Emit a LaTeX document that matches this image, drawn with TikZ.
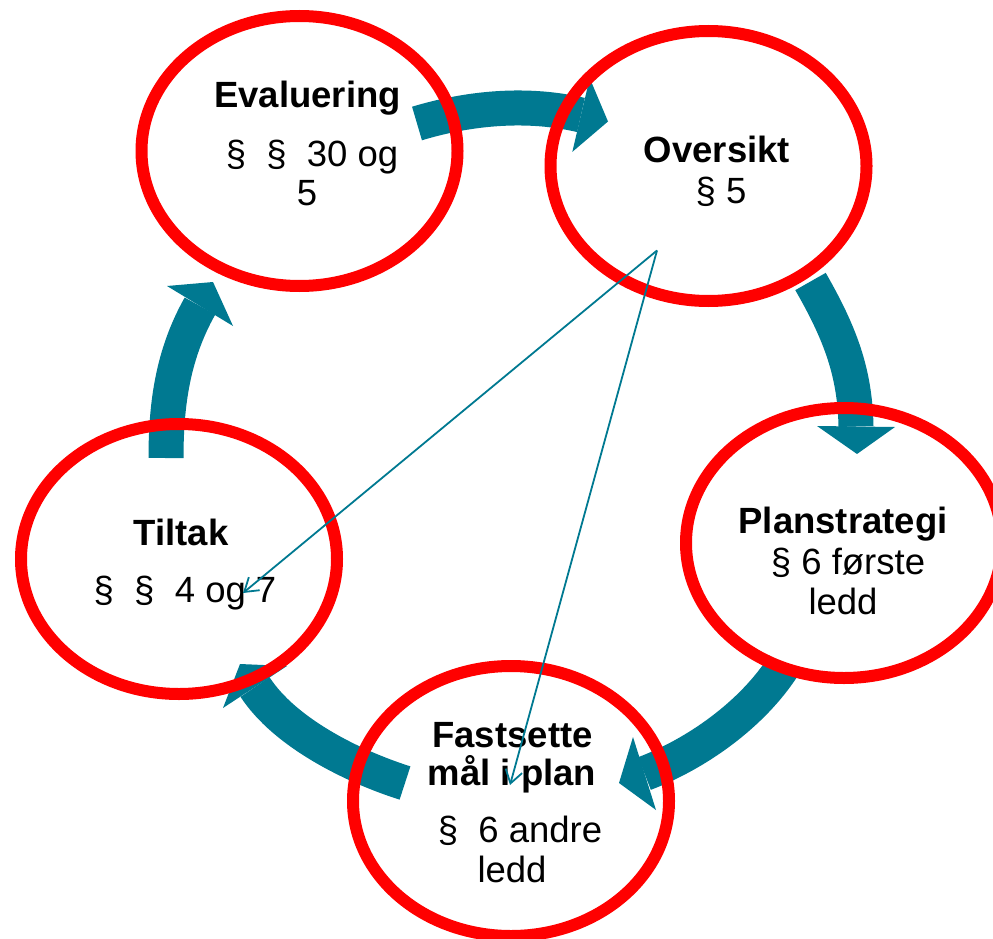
\documentclass[tikz,border=0pt]{standalone}
\usepackage{fontspec}
\setmainfont{Liberation Sans}
\usetikzlibrary{shapes.geometric,arrows.meta}
\definecolor{cyclered}{RGB}{255,0,0}
\definecolor{cycleteal}{RGB}{0,121,145}
\tikzset{
  stage/.style={draw=cyclered, line width=12pt, shape=ellipse, minimum width=316pt, minimum height=270pt, inner sep=0pt},
  blockbody/.style={draw=cycleteal, line width=35pt, line cap=butt},
  blockhead/.style={fill=cycleteal},
  lbl/.style={anchor=base, inner sep=0pt, font=\fontsize{36.5}{40}\selectfont},
  lblb/.style={lbl, font=\fontsize{36.5}{40}\selectfont\bfseries},
  thinlink/.style={draw=cycleteal, line width=1.8pt, -{Straight Barb[length=13pt,width=17pt]}}
}
\begin{document}
\begin{tikzpicture}[x=1pt,y=-1pt]
\useasboundingbox (0,0) rectangle (993,939);

% block arrows (bodies)
\coordinate (a1s) at (417,123.5); \coordinate (a1e) at (581,115);
\coordinate (a2s) at (810.5,281.5); \coordinate (a2e) at (856,426.5);
\coordinate (a3s) at (784,665); \coordinate (a3e) at (644.5,773.5);
\coordinate (a4s) at (405,783); \coordinate (a4e) at (255,687);
\coordinate (a5s) at (166,458); \coordinate (a5e) at (200,306);

\draw[blockbody] (a1s) .. controls (470,107.5) and (528,102.5) .. (a1e);
\draw[blockbody] (a2s) .. controls (840,333) and (855,372) .. (a2e);
\draw[blockbody] (a3s) .. controls (752,715) and (696,754) .. (a3e);
\draw[blockbody] (a4s) .. controls (353,766.5) and (285,733) .. (a4e);
\draw[blockbody] (a5s) .. controls (166,403) and (173,354) .. (a5e);

% block arrow heads
\fill[blockhead] (589.7,78.1) -- (608,121.5) -- (572.3,151.9) -- cycle;
\fill[blockhead] (817,426) -- (857,454) -- (895,427) -- cycle;
\fill[blockhead] (633,737) -- (619,783) -- (656,810) -- cycle;
\fill[blockhead] (287,666) -- (240,664) -- (223,708) -- cycle;
\fill[blockhead] (167,286) -- (213,282) -- (233,326) -- cycle;

% stages
\node[stage] (eval) at (299.5,151) {};
\node[stage] (overs) at (708.5,166) {};
\node[stage] (plan) at (844,543) {};
\node[stage] (tiltak) at (179,559) {};
\node[stage] (fast) at (511,801) {};

% texts
\node[lblb] (evalT) at (307.5,108) {Evaluering};
\node[lbl] (evalA) at (312,167) {§\ \ §\ \ 30 og};
\node[lbl] (evalB) at (307,205) {5};

\node[lblb] (oversT) at (717,162) {Oversikt};
\node[lbl] (oversA) at (721,203) {§ 5};

\node[lblb] (planT) at (843,533) {Planstrategi};
\node[lbl] (planA) at (848,574) {§ 6 første};
\node[lbl] (planB) at (843,614) {ledd};

\node[lblb] (tiltakT) at (181,545) {Tiltak};
\node[lbl] (tiltakA) at (185,602) {§\ \ §\ \ 4 og 7};

\node[lblb] (fastT) at (512.5,747) {Fastsette};
\node[lblb] (fastT2) at (512,785) {mål i plan};
\node[lbl] (fastA) at (520,842) {§\ \ 6 andre};
\node[lbl] (fastB) at (512,882) {ledd};

% thin links
\coordinate (src) at (657,250.5);
\coordinate (tgtT) at (243,593);
\coordinate (tgtF) at (510,785);
\draw[thinlink] (src) -- (tgtT);
\draw[thinlink] (src) -- (tgtF);
\end{tikzpicture}
\end{document}
